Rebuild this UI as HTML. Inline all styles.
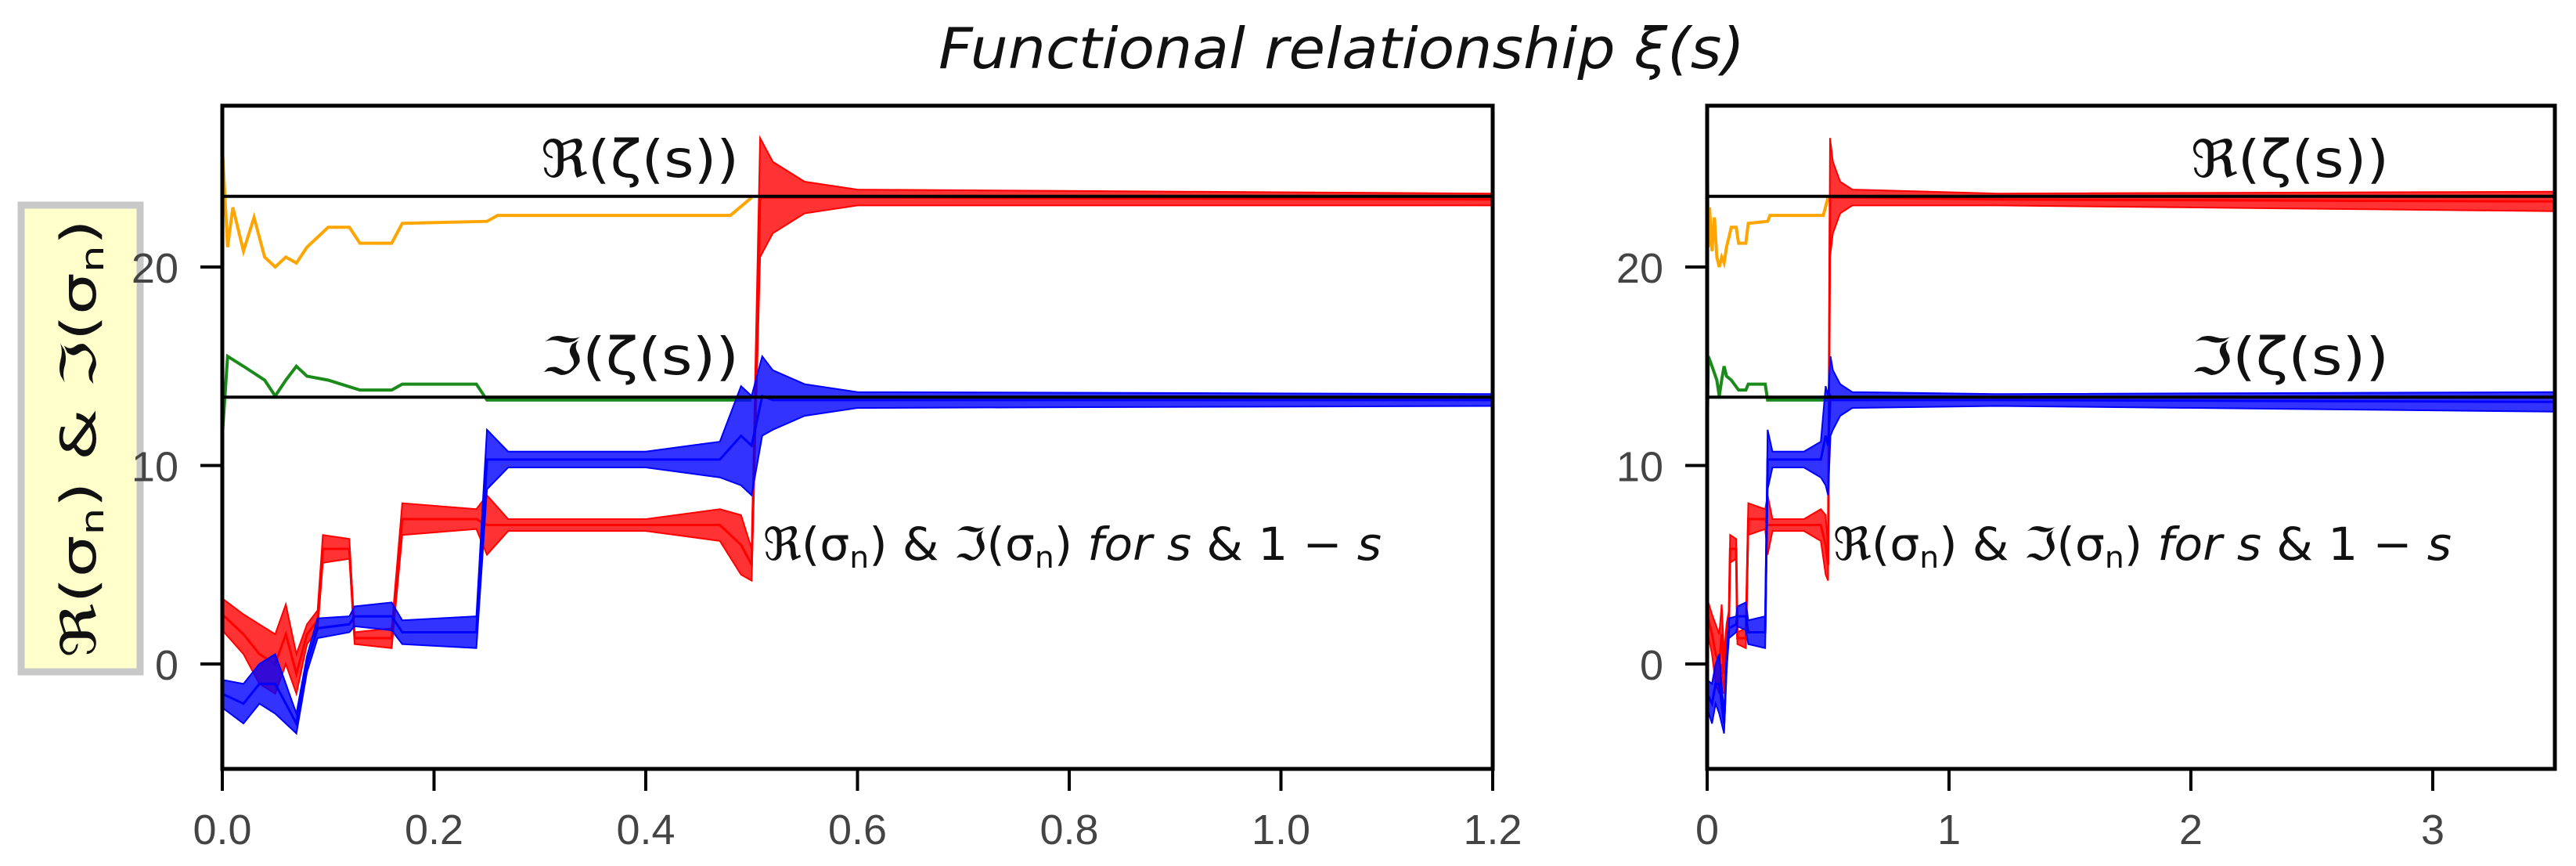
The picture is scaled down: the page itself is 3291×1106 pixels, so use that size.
<!DOCTYPE html>
<html><head><meta charset="utf-8"><style>
html,body{margin:0;padding:0;background:#fff;}
svg{display:block;font-family:"Liberation Sans","DejaVu Sans",sans-serif;}
</style></head><body>
<svg id="chart" width="3291" height="1106" viewBox="0 0 3291 1106" xmlns="http://www.w3.org/2000/svg">
<text x="1199" y="87" font-size="72" font-style="italic" font-family="DejaVu Sans,sans-serif" textLength="1030" lengthAdjust="spacingAndGlyphs" fill="#111">Functional relationship ξ(s)</text>
<g>
<rect x="27" y="262" width="152" height="596" fill="#ffffcc" stroke="#c8c8c8" stroke-width="9"/>
<text x="0" y="0" font-size="62" font-family="DejaVu Sans,sans-serif" fill="#111" text-anchor="middle" textLength="560" lengthAdjust="spacingAndGlyphs" transform="translate(122,560) rotate(-90)">ℜ(σ<tspan font-size="40" dy="10">n</tspan><tspan dy="-10">) &amp; ℑ(σ</tspan><tspan font-size="40" dy="10">n</tspan><tspan dy="-10">)</tspan></text>
</g>
<g id="p1"></g>
<g id="p2"></g>
</svg>
<script>
// ---- data ----
const orangeX = [0,0.005,0.01,0.02,0.03,0.04,0.05,0.06,0.07,0.08,0.1,0.12,0.13,0.16,0.17,0.25,0.26,0.48,0.5];
const orangeY = [26,21,23,20.8,22.5,20.5,20,20.5,20.2,21,22,22,21.2,21.2,22.2,22.3,22.6,22.6,23.5];
const greenX = [0,0.005,0.02,0.04,0.05,0.06,0.07,0.08,0.1,0.13,0.16,0.17,0.24,0.25,0.5];
const greenY = [11.5,15.5,15,14.3,13.5,14.3,15,14.5,14.3,13.8,13.8,14.1,14.1,13.3,13.3];
const redX = [0,0.02,0.035,0.05,0.06,0.07,0.08,0.09,0.095,0.12,0.125,0.16,0.17,0.24,0.25,0.27,0.4,0.47,0.49,0.5,0.508,0.52,0.55,0.6,1.2,3.6];
const redC = [2.5,1.5,0.5,0,1.5,-0.5,1.5,2.2,5.8,5.8,1.3,1.3,7.3,7.3,7,7,7,7,6,5,23.5,23.5,23.5,23.5,23.4,23.3];
const redA = [0.8,1,1.5,1.5,1.5,1,0.5,0.5,0.7,0.5,0.3,0.5,0.8,0.5,1.5,0.3,0.3,0.8,1.5,0.8,3,1.8,0.8,0.4,0.3,0.5];
const blueX = [0,0.02,0.035,0.05,0.06,0.07,0.08,0.09,0.12,0.125,0.16,0.17,0.24,0.25,0.27,0.4,0.47,0.49,0.5,0.51,0.52,0.55,0.6,1.2,3.6];
const blueC = [-1.5,-2,-1,-1,-2,-3,0,1.8,2,2.4,2.4,1.6,1.6,10.3,10.3,10.3,10.3,11.5,11,13.5,13.3,13.3,13.3,13.3,13.2];
const blueA = [0.7,1,1,1.5,1,0.5,0.4,0.5,0.4,0.5,0.7,0.6,0.8,1.5,0.4,0.4,0.9,2.5,2.5,2,1.5,0.8,0.4,0.3,0.5];
const reZeta = 23.56;
const imZeta = 13.44;
const yTicks = [0,10,20];
const leftXTicks = [0,0.2,0.4,0.6,0.8,1.0,1.2];
const leftXLabels = ["0.0","0.2","0.4","0.6","0.8","1.0","1.2"];
const rightXTicks = [0,1,2,3];
const rightXLabels = ["0","1","2","3"];

const NS="http://www.w3.org/2000/svg";
function mk(tag,attrs,parent){const e=document.createElementNS(NS,tag);for(const k in attrs)e.setAttribute(k,attrs[k]);parent.appendChild(e);return e;}
const Y0=848, YS=25.35;
const yPix=v=>Y0-v*YS;
const TOP=135, BOT=982;

function panel(g,id,x0,x1,xmin,xmax,xticks,xlabels,ann){
  const xPix=v=>x0+(v-xmin)/(xmax-xmin)*(x1-x0);
  const defs=mk('defs',{},g);
  const cp=mk('clipPath',{id:'clip'+id},defs);
  mk('rect',{x:x0,y:TOP,width:x1-x0,height:BOT-TOP},cp);
  const plot=mk('g',{'clip-path':'url(#clip'+id+')'},g);
  function band(xs,cs,as,color,name){
    let up=[],lo=[];
    for(let i=0;i<xs.length;i++){up.push(xPix(xs[i])+','+yPix(cs[i]+as[i]));lo.unshift(xPix(xs[i])+','+yPix(cs[i]-as[i]));}
    const p=mk('polygon',{points:up.concat(lo).join(' '),fill:color,'fill-opacity':0.8,stroke:color,'stroke-width':2},plot);
    
    
    const l=mk('polyline',{points:xs.map((x,i)=>xPix(x)+','+yPix(cs[i])).join(' '),fill:'none',stroke:color,'stroke-width':3},plot);
    
    
  }
  function line(xs,ys,color,name){
    const l=mk('polyline',{points:xs.map((x,i)=>xPix(x)+','+yPix(ys[i])).join(' '),fill:'none',stroke:color,'stroke-width':4},plot);
    
    
  }
  line(orangeX,orangeY,'#ffa500','orange-series');
  line(greenX,greenY,'#1a8a1a','green-series');
  band(redX,redC,redA,'#ff0000','red-series');
  band(blueX,blueC,blueA,'#0000ff','blue-series');
  [reZeta,imZeta].forEach((v,i)=>{
    const h=mk('line',{x1:x0,x2:x1,y1:yPix(v),y2:yPix(v),stroke:'#000','stroke-width':4},g);
    
    
  });
  const fr=mk('rect',{x:x0,y:TOP,width:x1-x0,height:BOT-TOP,fill:'none',stroke:'#000','stroke-width':5},g);
  
  
  yTicks.forEach(v=>{
    const t=mk('line',{x1:x0-28,x2:x0,y1:yPix(v),y2:yPix(v),stroke:'#000','stroke-width':4},g);
    
    
    const tx=mk('text',{x:x0-56,y:yPix(v)+20,'font-size':54,'text-anchor':'end',fill:'#444'},g);
    tx.textContent=v;
    
    
  });
  xticks.forEach((v,i)=>{
    const t=mk('line',{x1:xPix(v),x2:xPix(v),y1:BOT,y2:BOT+28,stroke:'#000','stroke-width':4},g);
    
    
    const tx=mk('text',{x:xPix(v),y:BOT+96,'font-size':54,'text-anchor':'middle',fill:'#444'},g);
    tx.textContent=xlabels[i];
    
    
  });
  const a1=mk('text',{x:ann[0],y:226,'font-size':66,fill:'#111','font-family':'DejaVu Sans,sans-serif',textLength:253,lengthAdjust:'spacingAndGlyphs'},g);
  a1.textContent='ℜ(ζ(s))';
  
  
  const a2=mk('text',{x:ann[0],y:478,'font-size':66,fill:'#111','font-family':'DejaVu Sans,sans-serif',textLength:253,lengthAdjust:'spacingAndGlyphs'},g);
  a2.textContent='ℑ(ζ(s))';
  
  
  const a3=mk('text',{x:ann[1],y:715,'font-size':58,fill:'#111','font-family':'DejaVu Sans,sans-serif',textLength:790,lengthAdjust:'spacingAndGlyphs'},g);
  a3.innerHTML='ℜ(σ<tspan font-size="38" dy="10">n</tspan><tspan dy="-10">) &amp; ℑ(σ</tspan><tspan font-size="38" dy="10">n</tspan><tspan dy="-10">) </tspan><tspan font-style="italic">for s</tspan> &amp; 1 − <tspan font-style="italic">s</tspan>';
  
  
}
panel(document.getElementById('p1'),'1',284,1907,0,1.2,leftXTicks,leftXLabels,[691,975]);
panel(document.getElementById('p2'),'2',2181,3264,0,3.505,rightXTicks,rightXLabels,[2799,2342]);
</script>
</body></html>
